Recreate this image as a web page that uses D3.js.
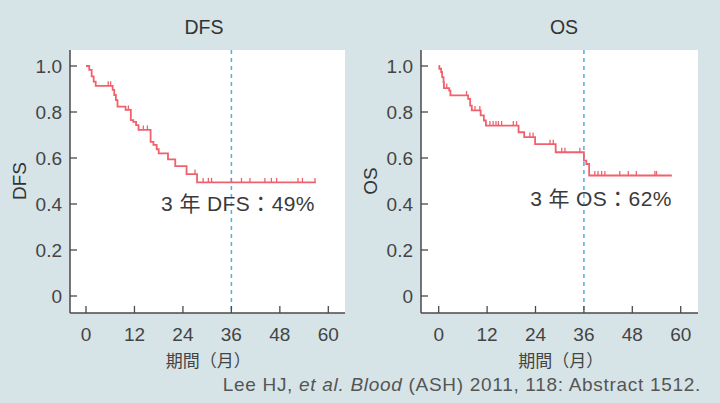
<!DOCTYPE html>
<html><head><meta charset="utf-8">
<script src="https://cdn.jsdelivr.net/npm/d3@7"></script>
<style>body{margin:0;background:#d6e4e7;}svg{display:block;}</style>
</head><body>
<svg id="c" width="720" height="403"></svg>
<script>
// ---- data ----
const xTicks = [0, 12, 24, 36, 48, 60];
const yTicks = [0, 0.2, 0.4, 0.6, 0.8, 1.0];
const yTickLabels = ["0", "0.2", "0.4", "0.6", "0.8", "1.0"];
const landmark = 36;

const dfsTimes = [0, 0.8, 1.4, 1.9, 2.4, 6.6, 7.0, 7.4, 7.8, 9.8, 11.1, 11.7, 12.4, 13.0, 16.0, 16.7, 17.5, 18.0, 20.3, 22.1, 24.9, 27.5];
const dfsSurv  = [1.0, 0.983, 0.955, 0.932, 0.914, 0.896, 0.874, 0.852, 0.823, 0.809, 0.765, 0.757, 0.743, 0.722, 0.67, 0.657, 0.638, 0.62, 0.594, 0.565, 0.53, 0.494];
const dfsEnd = 56.9;
const dfsCensor = [5.5, 6.1, 10.5, 14.2, 15.2, 27.0, 29.0, 30.3, 31.1, 36.0, 38.5, 40.6, 44.3, 45.9, 47.2, 52.5, 53.6, 56.7];

const osTimes = [0, 0.15, 0.6, 0.85, 1.2, 1.3, 2.6, 2.9, 7.3, 7.8, 8.2, 10.4, 11.2, 11.7, 19.8, 21.2, 23.9, 29.0, 36.0, 36.6, 37.3];
const osSurv  = [1.0, 0.988, 0.974, 0.952, 0.93, 0.904, 0.893, 0.872, 0.857, 0.828, 0.807, 0.785, 0.763, 0.741, 0.712, 0.691, 0.66, 0.625, 0.589, 0.574, 0.524];
const osEnd = 57.8;
const osCensor = [2.0, 6.9, 9.0, 10.2, 12.7, 13.5, 14.2, 14.8, 15.6, 18.5, 19.3, 22.6, 23.4, 27.6, 28.4, 30.5, 31.3, 35.0, 38.7, 39.5, 40.4, 41.2, 44.9, 47.0, 49.0, 53.6, 54.0];

const titles = ["DFS", "OS"];
const notes = ["3 年 DFS：49%", "3 年 OS：62%"];
const xLabel = "期間（月）";
const footerParts = [["Lee HJ, ", false], ["et al.", true], [" ", false], ["Blood", true], [" (ASH) 2011, 118: Abstract 1512.", false]];

// ---- drawing ----
const svg = d3.select("#c");
svg.append("rect").attr("width", 720).attr("height", 403).attr("fill", "#d6e4e7");

const LAT = "'Liberation Sans', Arial, Helvetica, sans-serif";
const CJK = "'Liberation Sans', 'Noto Sans CJK JP', sans-serif";
const curveColor = "#f0616d";
const dashColor = "#5ab3dc";
const axisColor = "#4a4a4a";
const textColor = "#444";

const panels = [
  {title: titles[0], times: dfsTimes, surv: dfsSurv, end: dfsEnd, censor: dfsCensor, note: notes[0],
   left: 70, right: 345, r0: 86, r1: 328.3, titleX: 204, noteX: 238, noteY: 211},
  {title: titles[1], times: osTimes, surv: osSurv, end: osEnd, censor: osCensor, note: notes[1],
   left: 421, right: 698, r0: 438.7, r1: 680.7, titleX: 564, noteX: 601, noteY: 206}
];
const plotTop = 50, plotBottom = 313;
const y = d3.scaleLinear().domain([0, 1]).range([296, 66]);

panels.forEach(p => {
  const x = d3.scaleLinear().domain([0, 60]).range([p.r0, p.r1]);
  const g = svg.append("g");
  g.append("rect").attr("x", p.left).attr("y", plotTop).attr("width", p.right - p.left)
    .attr("height", plotBottom - plotTop).attr("fill", "#fff");

  // landmark dashed line
  g.append("line").attr("x1", x(landmark)).attr("x2", x(landmark)).attr("y1", plotTop).attr("y2", plotBottom)
    .attr("stroke", dashColor).attr("stroke-width", 1.6).attr("stroke-dasharray", "4,4");

  // step curve
  const pts = p.times.map((t, i) => [t, p.surv[i]]);
  pts.push([p.end, p.surv[p.surv.length - 1]]);
  const line = d3.line().x(d => x(d[0])).y(d => y(d[1])).curve(d3.curveStepAfter);
  g.append("path").attr("d", line(pts)).attr("fill", "none").attr("stroke", curveColor).attr("stroke-width", 1.8);

  // censor marks
  const survAt = t => { let s = p.surv[0]; p.times.forEach((tt, i) => { if (tt <= t) s = p.surv[i]; }); return s; };
  g.selectAll(".cen").data(p.censor).join("line")
    .attr("x1", d => x(d)).attr("x2", d => x(d))
    .attr("y1", d => y(survAt(d))).attr("y2", d => y(survAt(d)) - 4.5)
    .attr("stroke", curveColor).attr("stroke-width", 1.3);

  // axes
  g.append("line").attr("x1", p.left).attr("x2", p.left).attr("y1", plotTop).attr("y2", plotBottom)
    .attr("stroke", axisColor).attr("stroke-width", 1.5);
  g.append("line").attr("x1", p.left).attr("x2", p.right).attr("y1", plotBottom).attr("y2", plotBottom)
    .attr("stroke", axisColor).attr("stroke-width", 1.5);

  g.selectAll(".yt").data(yTicks).join("line")
    .attr("x1", p.left).attr("x2", p.left + 7).attr("y1", d => y(d)).attr("y2", d => y(d))
    .attr("stroke", axisColor).attr("stroke-width", 1.3);
  g.selectAll(".ytl").data(yTicks).join("text")
    .attr("x", p.left - 8).attr("y", d => y(d)).attr("dy", "0.36em")
    .attr("text-anchor", "end").attr("font-family", LAT).attr("font-size", 19).attr("fill", textColor)
    .text((d, i) => yTickLabels[i]);

  g.selectAll(".xt").data(xTicks).join("line")
    .attr("x1", d => x(d)).attr("x2", d => x(d)).attr("y1", plotBottom).attr("y2", plotBottom - 7)
    .attr("stroke", axisColor).attr("stroke-width", 1.3);
  g.selectAll(".xtl").data(xTicks).join("text")
    .attr("x", d => x(d)).attr("y", 341)
    .attr("text-anchor", "middle").attr("font-family", LAT).attr("font-size", 19).attr("fill", textColor)
    .text(d => d);

  g.append("text").attr("x", x(30) + 1).attr("y", 367).attr("text-anchor", "middle")
    .attr("font-family", "'Noto Sans CJK JP', sans-serif").attr("font-size", 17).attr("fill", textColor)
    .text(xLabel);

  g.append("text").attr("x", p.titleX).attr("y", 34).attr("text-anchor", "middle")
    .attr("font-family", LAT).attr("font-size", 19.5).attr("fill", "#333").text(p.title);

  g.append("text").attr("transform", `translate(${p.left - 44},${y(0.5)}) rotate(-90)`)
    .attr("text-anchor", "middle").attr("font-family", LAT).attr("font-size", 19).attr("fill", "#333")
    .text(p.title);

  g.append("text").attr("x", p.noteX).attr("y", p.noteY).attr("text-anchor", "middle")
    .attr("font-family", CJK).attr("font-size", 21).attr("letter-spacing", 0.4).attr("fill", "#3a3a3a").text(p.note);
});

const ft = svg.append("text").attr("x", 701).attr("y", 391).attr("text-anchor", "end")
  .attr("font-family", LAT).attr("font-size", 19).attr("letter-spacing", 0.7).attr("fill", "#555");
footerParts.forEach(([s, it]) => ft.append("tspan").attr("font-style", it ? "italic" : "normal").text(s));
</script>
</body></html>
